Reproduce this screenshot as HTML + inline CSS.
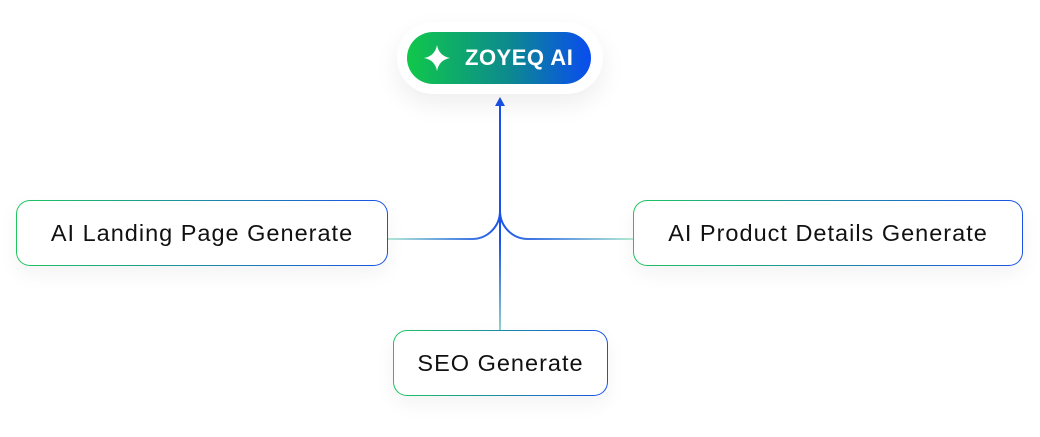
<!DOCTYPE html>
<html><head><style>
body{margin:0;width:1040px;height:437px;background:#fff;position:relative;overflow:hidden;font-family:"Liberation Sans",sans-serif}
.box{position:absolute;height:66px;border-radius:14px;border:1.5px solid transparent;background:linear-gradient(#fff,#fff) padding-box,linear-gradient(90deg,#1fc55e,#1a52e8) border-box;box-shadow:0 8px 20px rgba(0,0,0,0.05);display:flex;align-items:center;justify-content:center;font-size:23.5px;letter-spacing:1px;color:#111;box-sizing:border-box}
</style></head><body>
<svg width="1040" height="437" style="position:absolute;left:0;top:0">
<defs>
<linearGradient id="gl" x1="0" x2="1"><stop offset="0" stop-color="#b5ead6"/><stop offset="1" stop-color="#1a52e8"/></linearGradient>
<linearGradient id="gr" x1="1" x2="0"><stop offset="0" stop-color="#b5ead6"/><stop offset="1" stop-color="#1a52e8"/></linearGradient>
<linearGradient id="gv" gradientUnits="userSpaceOnUse" x1="500" y1="240" x2="500" y2="330"><stop offset="0" stop-color="#1a52e8"/><stop offset="1" stop-color="#8fd0cc"/></linearGradient>
</defs>
<path d="M388 239 H472 A28 28 0 0 0 500 211" stroke="url(#gl)" stroke-width="2" fill="none"/>
<path d="M633 239 H528 A28 28 0 0 1 500 211" stroke="url(#gr)" stroke-width="2" fill="none"/>
<line x1="500" y1="104" x2="500" y2="241" stroke="#1a52e8" stroke-width="2"/>
<line x1="500" y1="240" x2="500" y2="330" stroke="url(#gv)" stroke-width="2"/>
<polygon points="500,97 495,106 505,106" fill="#1a52e8"/>
</svg>
<div style="position:absolute;left:397px;top:22px;width:206px;height:72px;border-radius:36px;background:#fff;box-shadow:0 10px 25px rgba(0,0,0,0.07)"></div>
<div style="position:absolute;left:407px;top:32px;width:184px;height:52px;border-radius:26px;background:linear-gradient(90deg,#10c84a,#0d8a8e 55%,#0a4cf0);color:#fff;font-weight:bold;font-size:22px;display:flex;align-items:center">
<svg width="30" height="30" style="margin-left:15px" viewBox="0 0 30 30"><path d="M15 2 Q17 13 28 15 Q17 17 15 28 Q13 17 2 15 Q13 13 15 2Z" fill="#fff"/></svg>
<span style="margin-left:13px;letter-spacing:0.5px">ZOYEQ AI</span></div>
<div class="box" style="left:16px;top:200px;width:372px">AI Landing Page Generate</div>
<div class="box" style="left:633px;top:200px;width:390px">AI Product Details Generate</div>
<div class="box" style="left:393px;top:330px;width:215px">SEO Generate</div>
</body></html>
